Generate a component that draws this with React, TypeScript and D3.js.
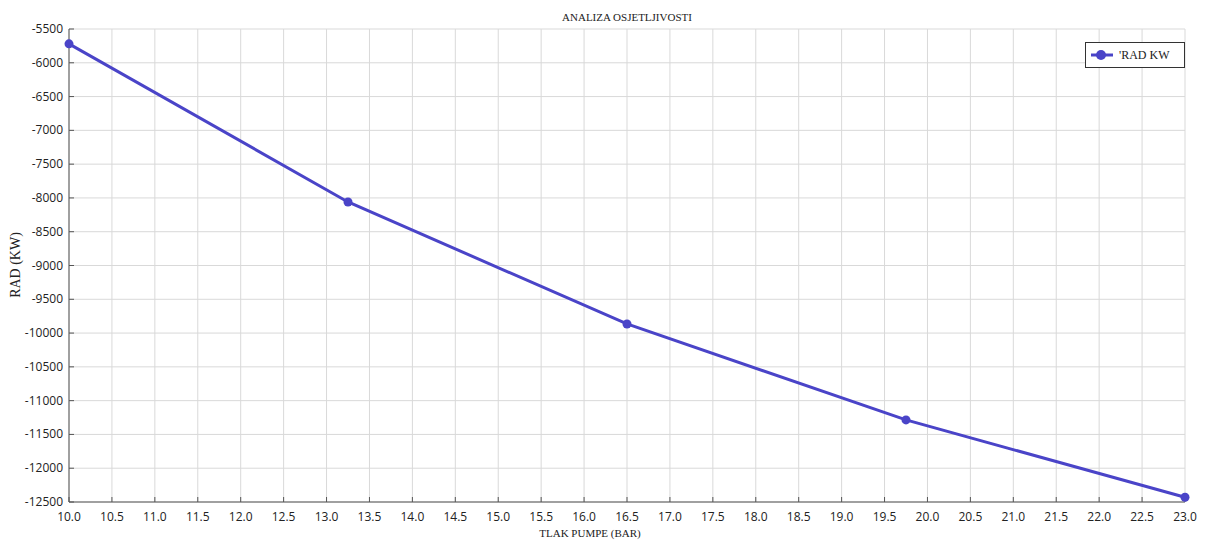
import React from "react";
import * as d3 from "d3";

const pressure = [10.0, 13.25, 16.5, 19.75, 23.0];
const work = [-5720, -8060, -9865, -11285, -12430];
const xTicks = d3.range(10, 23.001, 0.5);
const yTicks = d3.range(-12500, -5499, 500);
const title = "ANALIZA OSJETLJIVOSTI";
const xTitle = "TLAK PUMPE (BAR)";
const yTitle = "RAD (KW)";
const seriesName = "'RAD KW";

export default function App() {
  const W = 1211, H = 542;
  const left = 69, right = 1185, top = 29, bottom = 502;
  const x = d3.scaleLinear().domain([10, 23]).range([left, right]);
  const y = d3.scaleLinear().domain([-12500, -5500]).range([bottom, top]);
  const line = d3.line<number>().x((_, i) => x(pressure[i])).y((d) => y(d));
  const color = "#4a44c8";
  const sans = "'Open Sans', 'Noto Sans', sans-serif";
  const serif = "'Liberation Serif', 'Times New Roman', serif";
  return (
    <svg width={W} height={H} style={{ position: "absolute", left: 0, top: 0, background: "#fff" }}>
      <text x={627} y={21} textAnchor="middle" fontFamily={serif} fontSize={11} fill="#222">{title}</text>
      {xTicks.map((t) => (
        <line key={"gx" + t} x1={x(t)} x2={x(t)} y1={top} y2={bottom} stroke="#d9d9d9" strokeWidth={1} />
      ))}
      {yTicks.map((t) => (
        <line key={"gy" + t} x1={left} x2={right} y1={y(t)} y2={y(t)} stroke="#d9d9d9" strokeWidth={1} />
      ))}
      <line x1={left} x2={left} y1={top} y2={bottom} stroke="#555" strokeWidth={1} />
      <line x1={left} x2={right} y1={bottom} y2={bottom} stroke="#555" strokeWidth={1} />
      {xTicks.map((t) => (
        <g key={"tx" + t}>
          <line x1={x(t)} x2={x(t)} y1={bottom} y2={bottom - 5} stroke="#555" />
          <text x={x(t)} y={521} textAnchor="middle" fontFamily={sans} fontSize={12} fill="#222">{t.toFixed(1)}</text>
        </g>
      ))}
      {yTicks.map((t) => (
        <g key={"ty" + t}>
          <line x1={left} x2={left + 5} y1={y(t)} y2={y(t)} stroke="#555" />
          <text x={63} y={y(t) + 4} textAnchor="end" fontFamily={sans} fontSize={12} fill="#222">{t}</text>
        </g>
      ))}
      <text x={590} y={537} textAnchor="middle" fontFamily={serif} fontSize={11} fill="#222">{xTitle}</text>
      <text transform={`translate(20,${265}) rotate(-90)`} textAnchor="middle" fontFamily={serif} fontSize={14} fill="#222">{yTitle}</text>
      <path d={line(work) || ""} fill="none" stroke={color} strokeWidth={3} />
      {work.map((v, i) => (
        <circle key={"p" + i} cx={x(pressure[i])} cy={y(v)} r={4.5} fill={color} />
      ))}
      <rect x={1085.5} y={42.5} width={99} height={25} fill="#fff" stroke="#333" strokeWidth={1} />
      <line x1={1091} x2={1113} y1={55} y2={55} stroke={color} strokeWidth={3} />
      <circle cx={1101} cy={55} r={5} fill={color} />
      <text x={1119} y={59} fontFamily={serif} fontSize={12} fill="#222">{seriesName}</text>
    </svg>
  );
}
